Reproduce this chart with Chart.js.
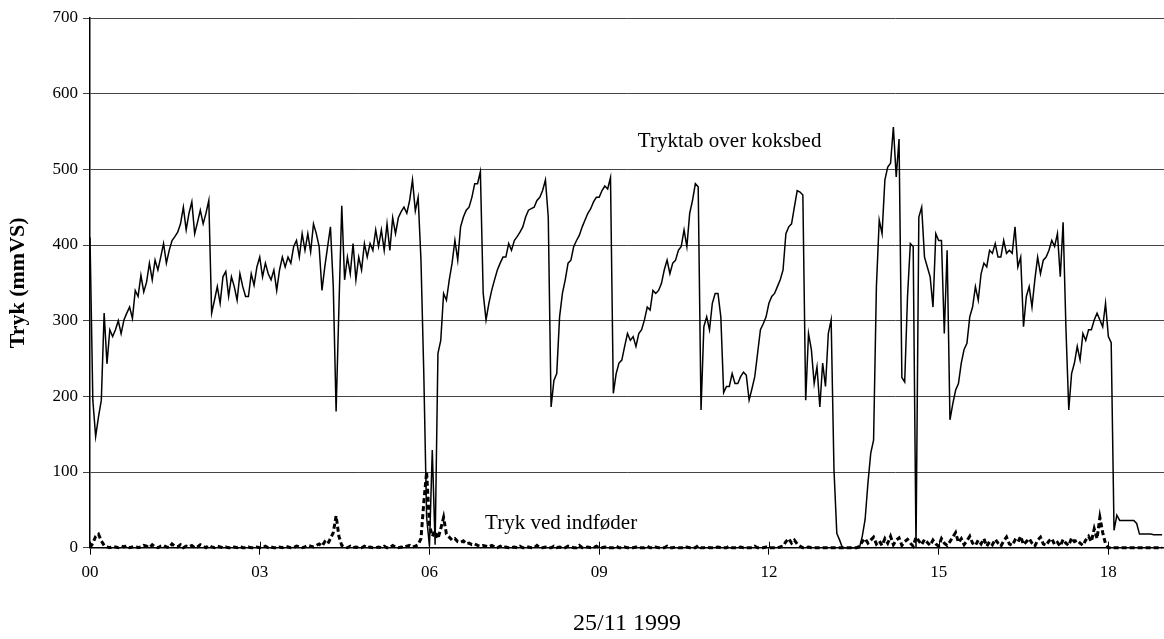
<!DOCTYPE html>
<html>
<head>
<meta charset="utf-8">
<script src="https://cdn.jsdelivr.net/npm/chart.js@4.4.1/dist/chart.umd.min.js"></script>
<style>
html,body{margin:0;padding:0;background:#fff;}
#wrap{width:1164px;height:639px;position:relative;}
</style>
</head>
<body>
<div id="wrap"><canvas id="c" width="1164" height="639"></canvas></div>
<script>
// Logged every 3 minutes from 00:00, 25/11 1999
const SAMPLE_MINUTES = 3;

const tryktabOverKoksbed = [
410,195,147,173,195,310,243,288,279,288,
300,283,301,310,318,303,340,332,360,338,
351,376,354,380,367,384,402,376,393,406,
411,417,428,450,420,442,457,415,430,446,
428,442,459,310,327,345,323,358,365,332,
358,345,327,362,345,332,332,362,347,371,
384,358,376,362,354,367,340,367,384,371,
384,376,398,406,384,415,393,415,391,428,
415,398,340,371,398,424,345,180,318,452,
354,384,362,402,354,384,367,402,384,402,
393,420,398,420,393,428,393,436,415,436,
444,450,442,459,486,445,463,380,230,40,
2,129,4,257,274,336,327,354,376,406,
380,424,437,446,450,463,481,481,497,336,
301,323,340,354,367,376,384,384,402,393,
406,411,417,424,437,446,448,450,459,463,
472,486,437,186,221,230,305,336,354,376,
380,398,406,413,424,433,442,448,457,463,
463,472,478,474,489,204,230,244,248,266,
283,274,279,266,283,288,301,318,314,340,
336,340,349,367,380,362,376,380,393,398,
420,398,442,459,481,477,182,292,305,288,
323,336,336,305,205,213,213,230,217,217,
226,232,228,195,210,226,257,288,296,305,
323,332,336,345,354,367,415,424,428,450,
472,470,466,195,283,262,217,239,186,244,
213,283,301,103,19,10,0,0,0,0,
0,0,0,15,37,85,125,142,345,433,
415,486,503,508,556,490,540,225,219,332,
402,398,0,437,450,384,371,358,318,415,
406,406,283,393,169,190,208,217,244,262,
270,305,318,345,327,362,376,371,393,389,
402,384,384,406,389,393,389,424,371,384,
292,332,345,318,354,384,362,380,384,393,
406,398,415,358,430,290,182,230,244,266,
248,283,274,288,288,301,310,301,292,323,
279,271,23,43,36,36,36,36,36,36,
32,18,18,18,18,18,17,17,17,17
];

const trykVedIndfoder = [
0,6,15,18,9,3,1,0,2,1,
0,2,1,3,0,1,2,0,1,3,
2,0,4,1,0,2,3,1,0,5,
2,1,4,0,2,1,3,0,1,4,
2,0,3,1,0,2,1,0,1,0,
0,1,0,2,0,0,1,0,0,1,
0,0,2,0,1,0,0,1,0,2,
1,0,0,2,1,0,1,3,2,1,
3,5,2,8,5,12,20,42,15,3,
1,0,2,0,1,0,0,2,0,1,
0,0,1,0,2,0,0,3,1,0,
1,0,2,3,1,2,4,12,60,100,
30,15,22,12,25,40,18,14,10,12,
8,7,9,5,6,4,5,3,2,3,
2,1,3,1,0,2,0,1,0,0,
1,0,2,0,0,1,0,0,3,0,
0,1,0,0,2,0,1,0,0,2,
1,0,0,3,0,0,1,0,0,2,
0,0,1,0,0,0,2,0,0,1,
0,0,0,1,0,0,0,2,0,0,
1,0,0,0,2,0,0,1,0,0,
0,1,0,0,0,3,0,0,1,0,
0,0,1,0,0,0,2,0,0,0,
1,0,0,0,0,2,0,0,0,1,
0,0,0,0,1,2,8,12,6,10,
5,2,0,0,1,0,0,0,0,0,
0,0,0,0,0,0,0,0,0,0,
0,0,2,8,12,6,10,14,5,9,
3,12,6,15,4,10,13,3,8,11,
6,2,14,9,4,11,7,3,10,5,
2,12,6,3,8,14,20,7,12,4,
9,15,6,3,10,5,12,2,8,4,
11,6,2,9,14,5,3,10,7,15,
4,8,12,6,2,10,14,5,3,9,
12,4,7,2,11,6,3,13,8,10,
6,3,10,15,8,25,12,40,20,5,
0,0,0,0,0,0,0,0,0,0,
0,0,0,0,0,0,0,0,0,0
];

const hourTickLabels = ['00','03','06','09','12','15','18'];
const seriesLabels = ['Tryktab over koksbed', 'Tryk ved indføder'];
const xAxisTitle = '25/11 1999';
const yAxisTitle = 'Tryk (mmVS)';

// annotation anchors in data units: [minute, value]
const labelAnchors = [[581, 529], [419, 25]];

const toPoints = arr => arr.map((v, i) => ({x: i * SAMPLE_MINUTES, y: v}));

const SERIF = '"Liberation Serif", "Times New Roman", Times, serif';
Chart.defaults.font.family = SERIF;
Chart.defaults.color = '#000';

const seriesText = {
  id: 'seriesText',
  afterDatasetsDraw(chart) {
    const {ctx, scales: {x, y}} = chart;
    ctx.save();
    ctx.fillStyle = '#000';
    ctx.font = '21px ' + SERIF;
    ctx.textAlign = 'left';
    ctx.textBaseline = 'alphabetic';
    seriesLabels.forEach((t, k) => {
      const [mx, vy] = labelAnchors[k];
      ctx.fillText(t, x.getPixelForValue(mx), y.getPixelForValue(vy));
    });
    // x tick marks also cross into the plot (cross-style ticks)
    ctx.strokeStyle = '#000';
    ctx.lineWidth = 1;
    const yb = y.getPixelForValue(0);
    x.ticks.forEach(t => {
      if (t.value % 180 !== 0) return;
      const px = Math.round(x.getPixelForValue(t.value)) + 0.5;
      ctx.beginPath();
      ctx.moveTo(px, yb - 6);
      ctx.lineTo(px, yb);
      ctx.stroke();
    });
    ctx.restore();
  }
};

new Chart(document.getElementById('c'), {
  type: 'line',
  data: {
    datasets: [
      {
        label: seriesLabels[1],
        data: toPoints(trykVedIndfoder),
        borderColor: '#000',
        borderWidth: 3,
        borderDash: [5, 3],
        pointRadius: 0,
        tension: 0,
        clip: 6
      },
      {
        label: seriesLabels[0],
        data: toPoints(tryktabOverKoksbed),
        borderColor: '#000',
        borderWidth: 1.5,
        pointRadius: 0,
        tension: 0,
        clip: 4
      }
    ]
  },
  options: {
    responsive: false,
    animation: false,
    devicePixelRatio: 1,
    layout: {padding: {top: 18, right: 0, bottom: 0, left: 0}},
    plugins: {legend: {display: false}, tooltip: {enabled: false}},
    scales: {
      x: {
        type: 'linear',
        min: 0,
        max: 1139,
        afterFit: s => { s.height = 91.3; },
        ticks: {
          stepSize: 180,
          includeBounds: false,
          autoSkip: false,
          maxRotation: 0,
          padding: 8,
          font: {size: 17},
          callback: v => (v % 180 === 0 ? hourTickLabels[v / 180] : '')
        },
        grid: {drawOnChartArea: false, drawTicks: true, tickLength: 7, color: '#000', lineWidth: 1},
        border: {display: true, color: '#000', width: 1.5},
        title: {display: true, text: xAxisTitle, font: {size: 24}, padding: {top: 0, bottom: 1}}
      },
      y: {
        min: 0,
        max: 700,
        afterFit: s => { s.width = 90; },
        ticks: {stepSize: 100, padding: 5, font: {size: 17}},
        grid: {color: '#444', lineWidth: 1, drawTicks: true, tickLength: 7},
        border: {display: true, color: '#000', width: 1.5},
        title: {display: true, text: yAxisTitle, font: {size: 22, weight: 'bold'}, padding: {top: 5, bottom: 0}}
      }
    }
  },
  plugins: [seriesText]
});
</script>
</body>
</html>
